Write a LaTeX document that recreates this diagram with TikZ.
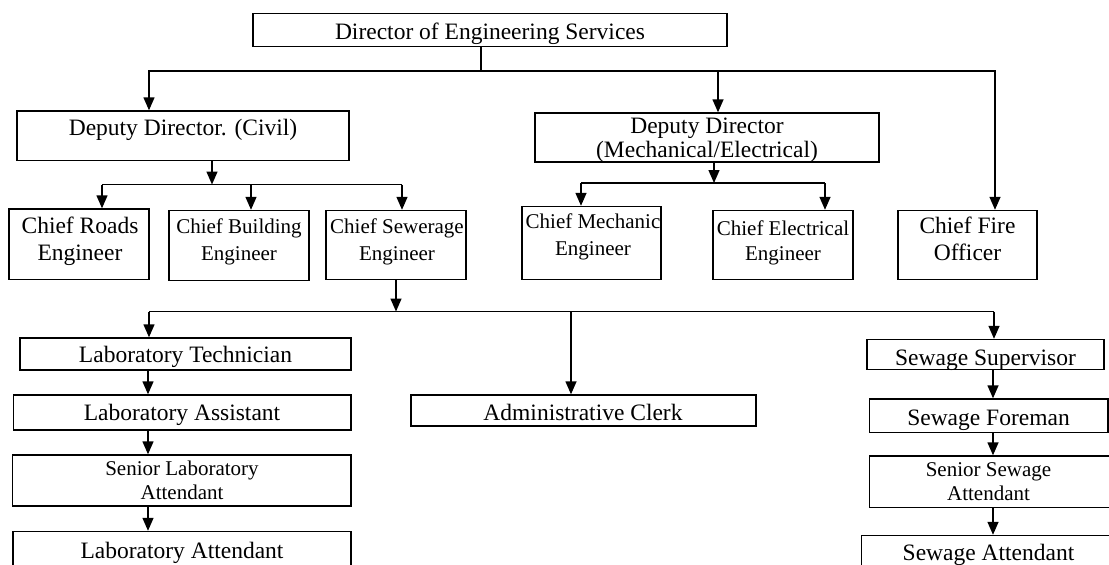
\documentclass[tikz,border=0pt]{standalone}
\usepackage{fontspec}
\setmainfont{Liberation Serif}
\usetikzlibrary{arrows.meta,fit}

\tikzset{
  x=1pt, y=-1pt,
  box/.style={draw=black, line width=1.4pt, inner sep=0pt, fill=none},
  lbl/.style={inner sep=0pt, anchor=base, font=\fontsize{23.5}{28}\selectfont},
  small/.style={lbl, font=\fontsize{21}{25}\selectfont},
  link/.style={draw=black, line width=1.4pt},
  arr/.style={link, -{Triangle[width=11pt,length=13pt]}},
}

% box from (x1,y1) to (x2,y2), named #1
\newcommand\orgrect[5]{\node[box, fit={(#2,#3) (#4,#5)}] (#1) {};}

\begin{document}
\begin{tikzpicture}
\useasboundingbox (0,0) rectangle (1109,565);

% ---- boxes ----
\orgrect{dir}{253}{13.5}{727}{46.5}
\orgrect{civ}{17}{111}{349}{160.5}
\orgrect{mech}{535}{113}{879}{162}
\orgrect{roads}{9}{209}{149}{279.5}
\orgrect{build}{169}{210.5}{309}{280.5}
\orgrect{sewer}{326}{210.5}{466}{279.5}
\orgrect{cmech}{522}{206.5}{661}{279.5}
\orgrect{celec}{713}{210.5}{853}{279.5}
\orgrect{fire}{898}{210.5}{1037}{279.5}
\orgrect{ltech}{20}{338}{351}{370}
\orgrect{lasst}{13.5}{395}{351}{430}
\orgrect{lsen}{12.5}{455}{351}{506}
\orgrect{latt}{13}{531.5}{351}{575}
\orgrect{admin}{411}{395}{756}{426}
\orgrect{ssup}{867}{339.5}{1104}{369.5}
\orgrect{sfore}{869.5}{399}{1108}{432.5}
\orgrect{ssen}{869.5}{456}{1115}{507.5}
\orgrect{satt}{861.5}{535.5}{1115}{575}

% ---- labels ----
\node[lbl] (dir-t) at (490,39) {Director of Engineering Services};
\node[lbl] (civ-t) at (183,135.5) {Deputy Director. (Civil)};
\node[lbl] (mech-t1) at (707,133) {Deputy Director};
\node[lbl] (mech-t2) at (707,157) {(Mechanical/Electrical)};
\node[lbl] (roads-t1) at (80,233) {Chief Roads};
\node[lbl] (roads-t2) at (80,260.5) {Engineer};
\node[small] (build-t1) at (239,233) {Chief Building};
\node[small] (build-t2) at (239,260.5) {Engineer};
\node[small] (sewer-t1) at (397,233) {Chief Sewerage};
\node[small] (sewer-t2) at (397,260) {Engineer};
\node[small] (cmech-t1) at (593,228) {Chief Mechanic};
\node[small] (cmech-t2) at (593,255) {Engineer};
\node[small] (celec-t1) at (783,235) {Chief Electrical};
\node[small] (celec-t2) at (783,260) {Engineer};
\node[lbl] (fire-t1) at (967.5,233) {Chief Fire};
\node[lbl] (fire-t2) at (967.5,260) {Officer};
\node[lbl] (ltech-t) at (185.5,362.5) {Laboratory Technician};
\node[lbl] (lasst-t) at (182,420) {Laboratory Assistant};
\node[small] (lsen-t1) at (182,475) {Senior Laboratory};
\node[small] (lsen-t2) at (182,499.5) {Attendant};
\node[lbl] (latt-t) at (182,558) {Laboratory Attendant};
\node[lbl] (admin-t) at (583,420) {Administrative Clerk};
\node[lbl] (ssup-t) at (985.5,365) {Sewage Supervisor};
\node[lbl] (sfore-t) at (988.5,425) {Sewage Foreman};
\node[small] (ssen-t1) at (988.5,476.5) {Senior Sewage};
\node[small] (ssen-t2) at (988.5,500) {Attendant};
\node[lbl] (satt-t) at (988.5,560) {Sewage Attendant};

% ---- junction points ----
\coordinate (busTop) at (481,71);
\coordinate (busCiv) at (212,184.5);
\coordinate (busMech) at (714,183);
\coordinate (busSew) at (396,311.5);

% director to deputies and fire officer
\draw[link] (dir.south -| busTop) -- (busTop);
\draw[arr] (busTop) -| (civ.north -| 149,0);
\draw[arr] (busTop) -| (fire.north -| 995,0);
\draw[arr] (busTop -| 718,0) -- (mech.north -| 718,0);

% civil branch
\draw[arr] (civ.south -| busCiv) -- (busCiv);
\draw[link] (busCiv -| 102,0) -- (busCiv -| 402,0);
\draw[arr] (busCiv -| 102,0) -- (roads.north -| 102,0);
\draw[arr] (busCiv -| 251,0) -- (build.north -| 251,0);
\draw[arr] (busCiv -| 402,0) -- (sewer.north -| 402,0);

% mechanical/electrical branch
\draw[arr] (mech.south -| busMech) -- (busMech);
\draw[link] (busMech -| 581,0) -- (busMech -| 825,0);
\draw[arr] (busMech -| 581,0) -- (cmech.north -| 581,0);
\draw[arr] (busMech -| 825,0) -- (celec.north -| 825,0);

% sewerage branch
\draw[arr] (sewer.south -| busSew) -- (busSew);
\draw[link] (busSew -| 149,0) -- (busSew -| 994,0);
\draw[arr] (busSew -| 149,0) -- (ltech.north -| 149,0);
\draw[arr] (busSew -| 571,0) -- (admin.north -| 571,0);
\draw[arr] (busSew -| 994,0) -- (ssup.north -| 994,0);

% laboratory chain
\draw[arr] (ltech.south -| 148,0) -- (lasst.north -| 148,0);
\draw[arr] (lasst.south -| 148,0) -- (lsen.north -| 148,0);
\draw[arr] (lsen.south -| 148,0) -- (latt.north -| 148,0);

% sewage chain
\draw[arr] (ssup.south -| 993,0) -- (sfore.north -| 993,0);
\draw[arr] (sfore.south -| 993,0) -- (ssen.north -| 993,0);
\draw[arr] (ssen.south -| 993,0) -- (satt.north -| 993,0);
\end{tikzpicture}
\end{document}
